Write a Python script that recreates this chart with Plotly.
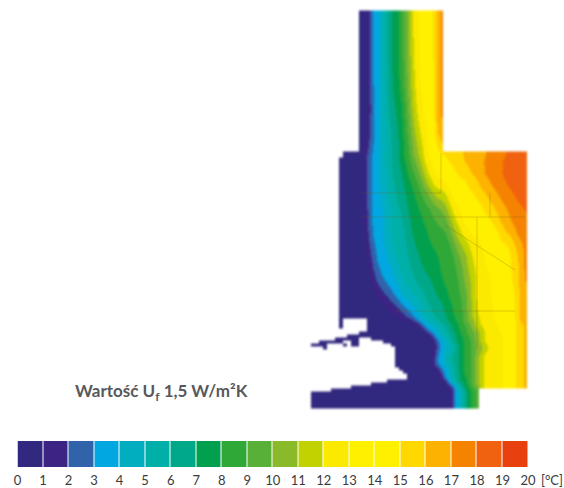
import plotly.graph_objects as go

W, H = 564, 488

# Temperature bands, one per legend cell (0-20 degC)
TICKS = list(range(21))
BAND_COLORS = ["#31287f", "#3b2483", "#3163ab", "#00a7e1", "#00aec0", "#00b0a8", "#00a88a", "#00a04f",
               "#2fa838", "#58b038", "#8aba2a", "#c2d100", "#fbe900", "#fff000", "#fff000", "#ffd800",
               "#fdb100", "#f58200", "#f0620f", "#e8400f"]

# Section grid: left edge of the columns, and band read at each grid point
COL_X = [309 + 4 * i for i in range(56)]
ROW_Y = [8, 11, 36, 60, 84, 108, 132, 148, 154, 160, 172, 184, 196, 208, 220, 232, 244, 256, 268, 280, 292, 304, 316,
         320, 323, 326, 329, 332, 335, 338, 341, 344, 347, 350, 353, 356, 359, 362, 365, 368, 371, 374, 377, 380,
         383, 386, 389, 392, 395, 398, 401, 404, 407]
ROWS = [
    "",
    "....... ..... 00133 45677 89acc ddeeg h",
    "....... ..... 00133 45677 89acc ddeeg h",
    "....... ..... 00133 45677 89acc ddeeg h",
    "....... ..... 00133 45677 89abc ddeeg h",
    "....... ..... 00133 45667 78abc cddeg h",
    "....... ..... 00123 44566 789ab ccdeg h",
    "....... ..... 01233 45566 788aa bcdde f",
    "....... .0000 01233 45566 788aa bcdde effff fgggg gghhh hhiii ii",
    "....... 00000 01233 45566 788aa bccde eefff fgggg ghhhh hiiii ii",
    "....... 00000 01233 44566 67889 abccd ddeef fffgg ghhhh iiiii ii",
    "....... 00000 01233 44556 67788 9abcc ccdde eefff ggghh hhiii ii",
    "....... 00000 01233 44556 66778 899ab bbcdd deeef ffggg hhhhi ii",
    "....... 00000 01233 34455 66777 88899 9abcc dddee efffg gghhh hi",
    "....... 00000 01233 34455 56677 78889 99abc cdddd eeeff ggghh hh",
    "....... 00000 00233 34455 56677 77888 889ab ccddd deeee fgggh hh",
    "....... 00000 00223 34455 55667 77788 8889a abbcc cddde eeefg gh",
    "....... 00000 00123 33445 55666 77777 88889 aabcc cddde eeeff gh",
    "....... 00000 00022 33344 55566 67777 88889 9abbc ccddd eeeff gh",
    "....... 00000 00012 23334 45556 66677 78888 9aabc cccdd deeff gh",
    "....... 00000 00001 12233 44455 56667 77888 99abc cccdd ddeef gg",
    "....... 00000 00000 00112 33444 55666 67788 89abc cccdd dddef gg",
    "....... 00000 00000 00000 01123 44556 66778 89abb ccccd dddef gg",
    "....... 0.... ..000 00000 00112 34455 66778 89aab ccccd dddef gg",
    "....... 0.... ..000 00000 00011 23445 56677 899ab ccccd dddef fg",
    "....... 0.... ..000 00000 00000 13344 55677 889ab bcccc dddef fg",
    "....... ..... ..000 00000 00000 02334 55677 889aa bcccc dddef fg",
    "....... ..... 00000 00000 00000 00234 45667 8899a bcccc dddef fg",
    "....... ..000 00000 00000 00000 00023 45567 7899a bbccc cddef fg",
    "......0 00000 ...00 00000 00000 00013 34567 7889a bcccc cddef fg",
    "..00000 0..00 ..... .0000 00000 00002 34567 7889a bcccc cddef fg",
    "0000... .0.00 ..... ...00 00000 00002 34456 7889a abccc cddef fg",
    "...0... ..... ..... ....0 00000 00002 34456 7889a abccc cddef fg",
    "....... ..... ..... ....0 00000 00002 34456 7889a abccc cddef fg",
    "....... ..... ..... ....0 00000 00003 34566 7889a bcccc cddef fg",
    "....... ..... ..... ....0 00000 00003 34566 7889a bcccc cddef fg",
    "....... ..... ..... ....0 00000 00013 34566 7889a bcccc cddef fg",
    "....... ..... ..... ....0 00000 00013 34566 7889a bcccc cddef fg",
    "....... ..... ..... ....0 00000 00012 34556 7889a bcccc cddef fg",
    "....... ..... ..... ..... 00000 00001 23456 7889a bcccc cddef fg",
    "....... ..... ..... ..... .0000 00000 23456 7889a bcccc cddef fg",
    "....... ..... ..... ..... ..000 00000 13456 7889a bcccc cddef fg",
    "....... ..... ..... ..... ..000 00000 03456 7789a bcccc cddef fg",
    "....... ..... ..... ..000 00000 00000 01356 7789a bcccc cddef fg",
    "....... ..... ...00 00000 00000 00000 00245 6789a bcccc cddef fg",
    "....... ...00 00000 00000 00000 00000 00024 6789a bcccc cddef fg",
    ".....00 00000 00000 00000 00000 00000 00023 56789",
    "0000000 00000 00000 00000 00000 00000 00023 56789",
    "0000000 00000 00000 00000 00000 00000 00023 56789",
    "0000000 00000 00000 00000 00000 00000 00023 56789",
    "0000000 00000 00000 00000 00000 00000 00023 56789",
    "0000000 00000 00000 00000 00000 00000 00023 56789",
    "0000000 00000 00000 00000 00000 00000 00023 56789",
]

# Thin profile outlines seen through the colour field
PROFILE_X = [361, 441, None, 361, 490, None, 477, 477, None, 395, 515, None, 445, 515, None, 441, 441, None, 490, 490, None, 490, 525]
PROFILE_Y = [193, 193, None, 217, 217, None, 217, 350, None, 311, 311, None, 225, 270, None, 153, 193, None, 193, 217, None, 217, 217]

CAPTION = "<b>Wartość U<sub>f</sub> 1,5 W/m²K</b>"
UNIT = "[°C]"

BAND_CODES = "0123456789abcdefghij"


def decode(row):
    chars = ("." + row.replace(" ", "")).ljust(len(COL_X), ".")
    return [None if c == "." else BAND_CODES.index(c) + 0.5 for c in chars]


def soften(grid):
    """Even out the 1-2-1 neighbours inside the section so that isotherms read as smooth curves."""
    rows, cols = len(grid), len(grid[0])
    out = [list(r) for r in grid]
    for r in range(rows):
        for c in range(cols):
            if grid[r][c] is None:
                continue
            total, weight = 2 * grid[r][c], 2
            for dc in (-1, 1):
                if 0 <= c + dc < cols and grid[r][c + dc] is not None:
                    total += grid[r][c + dc]
                    weight += 1
            out[r][c] = total / weight
    first = [list(r) for r in out]
    for r in range(rows):
        for c in range(cols):
            if first[r][c] is None:
                continue
            total, weight = 2 * first[r][c], 2
            for dr in (-1, 1):
                if 0 <= r + dr < rows and first[r + dr][c] is not None:
                    total += first[r + dr][c]
                    weight += 1
            out[r][c] = total / weight
    return out


Z = soften([decode(r) for r in ROWS])

scale = []
n = len(BAND_COLORS)
for i, c in enumerate(BAND_COLORS):
    scale.append([i / n, c])
    scale.append([(i + 1) / n, c])

fig = go.Figure()
fig.add_trace(go.Heatmap(x=COL_X, y=ROW_Y, z=Z, zmin=0, zmax=20, colorscale=scale, zsmooth="best",
                         showscale=False, hoverinfo="skip", connectgaps=False))
fig.add_trace(go.Scatter(x=PROFILE_X, y=PROFILE_Y, mode="lines", line=dict(color="rgba(110,90,20,0.25)", width=1),
                         hoverinfo="skip", showlegend=False))
fig.add_trace(go.Heatmap(x=TICKS, y=[0, 1], z=[[i + 0.5 for i in TICKS[:-1]]], zmin=0, zmax=20, colorscale=scale,
                         xgap=1, showscale=False, hoverinfo="skip", xaxis="x2", yaxis="y2"))

fig.update_layout(
    width=W, height=H, margin=dict(l=0, r=0, t=0, b=0, autoexpand=False), paper_bgcolor="white",
    plot_bgcolor="rgba(0,0,0,0)", showlegend=False,
    font=dict(family="Lato", color="#3a3a3c"),
    xaxis=dict(range=[0, W], domain=[0, 1], visible=False, fixedrange=True),
    yaxis=dict(range=[H, 0], domain=[0, 1], visible=False, fixedrange=True),
    xaxis2=dict(range=[0, 20], domain=[17.5 / W, 528 / W], anchor="y2", tickvals=TICKS, ticks="", showgrid=False,
                zeroline=False, showline=False, tickangle=0, tickfont=dict(size=13, family="Lato", color="#3a3a3c"),
                ticklabelstandoff=4, fixedrange=True),
    yaxis2=dict(range=[0, 1], domain=[1 - 467 / H, 1 - 441 / H], anchor="x2", visible=False, fixedrange=True),
    annotations=[
        dict(text=CAPTION, x=73, y=392, xref="x", yref="y", xanchor="left", yanchor="middle", showarrow=False,
             font=dict(size=17, family="Lato", color="#58595b")),
        dict(text=UNIT, x=539, y=480, xref="x", yref="y", xanchor="left", yanchor="middle", showarrow=False,
             font=dict(size=13, family="Lato", color="#3a3a3c")),
    ],
)
POST = """
document.body.style.margin='0';
var imgs=document.querySelectorAll('.hm image');
if(imgs.length){imgs[0].style.filter='blur(1px)';}
if(imgs.length>1){imgs[1].style.filter='blur(0.5px)';}
"""
fig.write_html("out.html", config=dict(displayModeBar=False), post_script=POST)
